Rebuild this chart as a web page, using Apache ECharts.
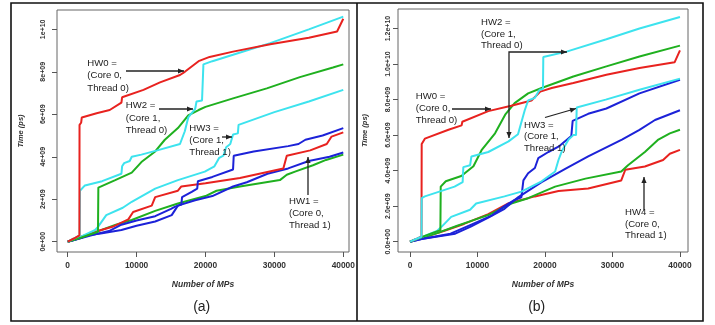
<!DOCTYPE html>
<html>
<head>
<meta charset="utf-8">
<script src="https://cdn.jsdelivr.net/npm/echarts@6/dist/echarts.min.js"></script>
<style>html,body{margin:0;padding:0;background:#fff}#c{width:715px;height:325px}</style>
</head>
<body>
<div id="c"></div>
<script>
// ---- tick labels ----
const xTicks = [0, 10000, 20000, 30000, 40000];
const xTickLabels = ['0', '10000', '20000', '30000', '40000'];
const yTicksA = [0, 2, 4, 6, 8, 10];          // units of 1e9 ps
const yTickLabelsA = ['0e+00', '2e+09', '4e+09', '6e+09', '8e+09', '1e+10'];
const yTicksB = [0, 2, 4, 6, 8, 10, 12];
const yTickLabelsB = ['0.0e+00', '2.0e+09', '4.0e+09', '6.0e+09', '8.0e+09', '1.0e+10', '1.2e+10'];

// ---- panel (a) series: [Number of MPs, Time in 1e9 ps] ----
const aRedHi = [[0,0],[900,0.15],[1700,0.3],[1720,5.5],[1950,5.6],[2050,5.85],[4200,6.05],[6100,6.2],[7800,6.55],[7900,6.8],[11000,7.15],[13400,7.5],[16300,7.85],[17000,8.0],[18000,8.25],[19000,8.5],[20600,8.7],[24000,8.95],[29400,9.3],[35000,9.6],[39100,9.9],[40000,10.5]];
const aCyanHi = [[0,0],[900,0.15],[1750,0.3],[1780,2.4],[2500,2.65],[5000,2.85],[7800,3.2],[7900,3.55],[8200,3.7],[9000,3.8],[9300,4.0],[10700,4.1],[13000,4.3],[16300,4.6],[17000,5.2],[17500,5.85],[18500,6.25],[18700,6.6],[19500,6.65],[19700,8.35],[21000,8.5],[24000,8.8],[29400,9.35],[35000,10.0],[40000,10.6]];
const aGreenHi = [[0,0],[2000,0.2],[4400,0.47],[4450,2.55],[6900,2.9],[9300,3.25],[10700,3.75],[12700,4.25],[14100,4.8],[16000,5.35],[17500,5.95],[19000,6.2],[20000,6.35],[24000,6.75],[28900,7.22],[33700,7.75],[38500,8.2],[40000,8.35]];
const aCyanLo = [[0,0],[2000,0.25],[4000,0.55],[4400,0.7],[5600,1.25],[8000,1.6],[9300,1.88],[12700,2.5],[16000,2.9],[19900,3.3],[21300,3.55],[22000,3.95],[22600,4.05],[23000,4.45],[23600,4.6],[24000,5.05],[24700,5.1],[24800,5.5],[30000,6.1],[35000,6.6],[40000,7.15]];
const aBlueHi = [[0,0],[1700,0.15],[4000,0.35],[6000,0.5],[7800,0.8],[10000,1.0],[12700,1.2],[15000,1.55],[15600,1.65],[16500,1.75],[16600,2.1],[18000,2.35],[18800,2.5],[18900,2.85],[21000,3.05],[24000,3.4],[24100,4.05],[27000,4.25],[32000,4.5],[33500,4.6],[34500,4.8],[37000,5.0],[40000,5.35]];
const aRedLo = [[0,0],[2000,0.25],[4400,0.5],[6500,0.7],[8800,1.05],[9500,1.4],[12200,1.7],[12700,2.1],[16000,2.4],[16500,2.6],[20000,2.75],[25000,3.0],[31300,3.45],[31800,4.05],[35200,4.3],[37600,4.6],[38300,4.95],[40000,5.15]];
const aBlueLo = [[0,0],[1700,0.15],[3000,0.3],[5000,0.4],[7800,0.55],[10000,0.75],[12700,0.95],[15100,1.25],[15500,1.45],[16000,1.7],[18500,1.95],[21000,2.15],[24000,2.6],[26000,2.8],[29000,3.2],[32000,3.45],[35000,3.8],[38000,4.0],[40000,4.2]];
const aGreenLo = [[0,0],[2000,0.2],[4400,0.5],[7000,0.8],[9300,1.02],[12700,1.45],[16000,1.8],[20000,2.15],[21600,2.4],[25000,2.6],[30800,2.9],[31800,3.15],[33000,3.3],[35600,3.6],[37500,3.85],[40000,4.1]];

// ---- panel (b) series ----
const bRedHi = [[0,0],[900,0.15],[1700,0.3],[1730,5.5],[1900,5.6],[2200,5.8],[5700,6.3],[7650,6.55],[7750,6.75],[11600,7.35],[15000,7.65],[18000,7.95],[19300,8.45],[21000,8.65],[24200,8.93],[29100,9.4],[34000,9.78],[39200,10.1],[40000,10.77]];
const bCyanHi = [[0,0],[900,0.15],[1700,0.28],[1730,2.45],[2200,2.55],[6600,3.1],[7800,3.35],[7900,4.2],[8900,4.3],[9100,4.8],[11600,5.05],[14600,5.65],[16000,6.05],[17000,7.4],[17500,7.95],[18500,8.1],[19200,8.55],[19700,8.6],[19750,10.4],[23200,10.7],[29100,11.4],[34000,12.0],[40000,12.65]];
const bGreenHi = [[0,0],[2000,0.3],[4500,0.65],[4550,3.1],[5300,3.4],[7600,3.7],[9400,4.25],[10600,5.15],[12600,6.1],[14100,7.15],[15500,7.8],[17500,8.35],[19500,8.65],[24200,9.3],[29100,9.87],[34000,10.43],[40000,11.04]];
const bCyanLo = [[0,0],[2000,0.3],[4000,0.6],[4700,0.85],[6100,1.4],[8900,1.8],[9800,2.15],[14000,2.55],[16500,2.82],[19500,3.4],[21500,3.95],[22000,4.6],[22500,5.1],[23500,5.75],[24200,6.0],[24600,6.0],[24700,7.55],[29000,8.0],[34000,8.55],[40000,9.18]];
const bBlueHi = [[0,0],[1700,0.15],[6000,0.45],[9000,0.95],[12000,1.45],[14000,2.0],[15500,2.35],[16500,2.5],[16800,3.45],[17500,3.85],[18500,4.15],[19000,4.7],[20500,5.05],[22000,5.35],[23900,5.95],[24100,6.8],[26400,7.2],[29100,7.5],[34000,8.35],[40000,9.12]];
const bBlueLo = [[0,0],[1700,0.15],[6700,0.45],[9000,0.85],[11600,1.35],[14000,1.85],[16000,2.5],[19500,3.35],[23000,4.1],[26400,4.8],[31400,5.75],[34000,6.3],[36300,6.85],[40000,7.4]];
const bGreenLo = [[0,0],[2000,0.25],[4500,0.55],[7000,0.9],[9300,1.2],[11600,1.5],[15000,2.15],[17500,2.45],[21500,3.1],[26000,3.55],[31300,3.95],[32300,4.3],[34800,5.05],[36800,5.75],[38500,6.1],[40000,6.3]];
const bRedLo = [[0,0],[2000,0.25],[5000,0.6],[8000,1.0],[11600,1.55],[14500,2.15],[18500,2.55],[22000,2.85],[26400,3.0],[31300,3.45],[31900,4.05],[34800,4.23],[37500,4.6],[38500,4.95],[40000,5.17]];

const RED = '#e8221f', GREEN = '#1fb01f', CYAN = '#3de3ee', BLUE = '#1c22d8';
const FONT = '"Liberation Sans", Arial, sans-serif';

function xAxisDef(grid, min, max) {
  return {
    gridIndex: grid, type: 'value', min: min, max: max,
    axisLine: {show: false, onZero: false}, splitLine: {show: false},
    axisTick: {show: true, length: 5, lineStyle: {color: '#555'}, customValues: xTicks},
    axisLabel: {customValues: xTicks, fontSize: 8.4, fontWeight: 'bold', color: '#333', margin: 10,
      formatter: v => xTickLabels[xTicks.indexOf(v)] ?? String(v)},
    name: 'Number of MPs', nameLocation: 'middle', nameGap: 28,
    nameTextStyle: {fontStyle: 'italic', fontWeight: 'bold', fontSize: 8.5, color: '#333'}
  };
}
function yAxisDef(grid, min, max, ticks, labels, margin, gap) {
  return {
    gridIndex: grid, type: 'value', min: min, max: max,
    axisLine: {show: false, onZero: false}, splitLine: {show: false},
    axisTick: {show: true, length: 5, lineStyle: {color: '#555'}, customValues: ticks},
    axisLabel: {customValues: ticks, rotate: 90, fontSize: 7, fontWeight: 'bold', color: '#333', margin: margin,
      formatter: v => labels[ticks.indexOf(v)] ?? ''},
    name: 'Time (ps)', nameLocation: 'middle', nameGap: gap,
    nameTextStyle: {fontStyle: 'italic', fontWeight: 'bold', fontSize: 7.5, color: '#333'}
  };
}
function line(data, color, gi) {
  return {type: 'line', data: data, xAxisIndex: gi, yAxisIndex: gi, showSymbol: false, symbol: 'none',
    silent: true, lineStyle: {width: 2, color: color}, itemStyle: {color: color}};
}
function note(text, x, yFirstCenter, lh) {
  return {type: 'text', x: x, y: yFirstCenter - lh / 2, z: 10,
    style: {text: text, fontSize: 9.6, fontFamily: FONT, fill: '#222', lineHeight: lh, verticalAlign: 'top', align: 'left'}};
}
function arrow(pts, headEnd, headStart) {
  const els = [{type: 'polyline', z: 10, shape: {points: pts}, style: {stroke: '#222', lineWidth: 1.3, fill: null}}];
  function head(tip, from) {
    const dx = tip[0] - from[0], dy = tip[1] - from[1];
    const L = Math.hypot(dx, dy), ux = dx / L, uy = dy / L;
    const hl = 6, hw = 2.6;
    const bx = tip[0] - ux * hl, by = tip[1] - uy * hl;
    els.push({type: 'polygon', z: 10, shape: {points: [tip, [bx - uy * hw, by + ux * hw], [bx + uy * hw, by - ux * hw]]},
      style: {fill: '#222'}});
  }
  if (headEnd) head(pts[pts.length - 1], pts[pts.length - 2]);
  if (headStart) head(pts[0], pts[1]);
  return els;
}

const chart = echarts.init(document.getElementById('c'), null, {renderer: 'canvas'});
const graphics = [
  {type: 'rect', z: 20, shape: {x: 11, y: 3, width: 692, height: 318}, style: {stroke: '#111', lineWidth: 1.6, fill: null}},
  {type: 'line', z: 20, shape: {x1: 357, y1: 3, x2: 357, y2: 321}, style: {stroke: '#111', lineWidth: 1.6}},
  note('HW0 =\n(Core 0,\nThread 0)', 87.3, 63.3, 12.3),
  note('HW2 =\n(Core 1,\nThread 0)', 125.7, 105.7, 12.3),
  note('HW3 =\n(Core 1,\nThread 1)', 189.3, 128.3, 12.2),
  note('HW1 =\n(Core 0,\nThread 1)', 289, 201.7, 12),
  note('HW2 =\n(Core 1,\nThread 0)', 481, 22.3, 11.7),
  note('HW0 =\n(Core 0,\nThread 0)', 415.7, 96.7, 11.7),
  note('HW3 =\n(Core 1,\nThread 1)', 524, 125, 11.7),
  note('HW4 =\n(Core 0,\nThread 1)', 625, 212.7, 11.5),
  ...arrow([[126, 71], [184, 71]], true),
  ...arrow([[159, 109], [193, 109]], true),
  ...arrow([[222, 137], [232, 137]], true),
  ...arrow([[308, 195], [308, 157]], true),
  ...arrow([[509, 138], [509, 52], [567, 52]], true, true),
  ...arrow([[452, 109], [491, 109]], true),
  ...arrow([[545, 117.5], [576, 108.5]], true),
  ...arrow([[644, 210], [644, 177]], true),
  {type: 'text', x: 201.7, y: 306.7, style: {text: '(a)', fontSize: 14, fontFamily: FONT, fill: '#222', align: 'center', verticalAlign: 'middle'}},
  {type: 'text', x: 536.7, y: 306.7, style: {text: '(b)', fontSize: 14, fontFamily: FONT, fill: '#222', align: 'center', verticalAlign: 'middle'}}
];

chart.setOption({
  animation: false,
  backgroundColor: '#fff',
  textStyle: {fontFamily: FONT},
  grid: [
    {left: 57, right: 366, top: 10, bottom: 73, show: true, borderColor: '#666', borderWidth: 1, backgroundColor: 'transparent'},
    {left: 398, right: 27, top: 9, bottom: 73, show: true, borderColor: '#666', borderWidth: 1, backgroundColor: 'transparent'}
  ],
  xAxis: [xAxisDef(0, -1550, 40830), xAxisDef(1, -1780, 41190)],
  yAxis: [yAxisDef(0, -0.485, 10.91, yTicksA, yTickLabelsA, 10, 32), yAxisDef(1, -0.58, 13.1, yTicksB, yTickLabelsB, 6, 29)],
  series: [
    line(aGreenLo, GREEN, 0), line(aBlueLo, BLUE, 0), line(aRedLo, RED, 0), line(aBlueHi, BLUE, 0),
    line(aCyanLo, CYAN, 0), line(aGreenHi, GREEN, 0), line(aCyanHi, CYAN, 0), line(aRedHi, RED, 0),
    line(bRedLo, RED, 1), line(bGreenLo, GREEN, 1), line(bBlueLo, BLUE, 1), line(bBlueHi, BLUE, 1),
    line(bCyanLo, CYAN, 1), line(bGreenHi, GREEN, 1), line(bRedHi, RED, 1), line(bCyanHi, CYAN, 1)
  ],
  graphic: graphics
});
</script>
</body>
</html>
